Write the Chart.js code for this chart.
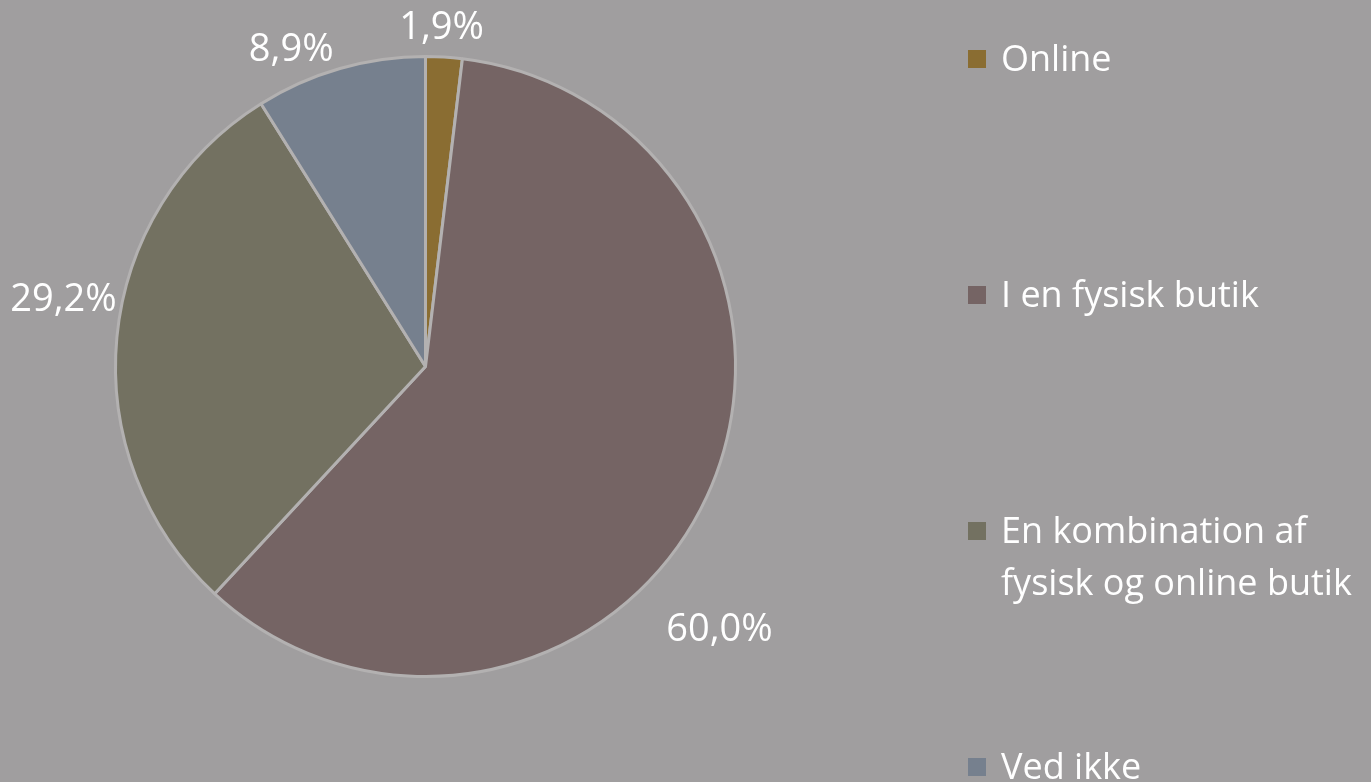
<!DOCTYPE html>
<html>
<head>
<meta charset="utf-8">
<script src="https://cdn.jsdelivr.net/npm/chart.js@4.4.0/dist/chart.umd.min.js"></script>
<style>
  html, body { margin: 0; padding: 0; background: #a09e9f; overflow: hidden; }
  #wrap { position: relative; width: 1371px; height: 782px; }
  #chart { position: absolute; left: 0; top: 0; }
  #legend { position: absolute; left: 968px; top: 0; font-family: 'Open Sans', sans-serif; font-size: 36px; color: #ffffff; }
  .item { position: absolute; left: 0; width: 420px; display: flex; align-items: flex-start; line-height: 52px; }
  .box { width: 18px; height: 18px; margin-top: 18px; margin-right: 15px; flex: none; }
</style>
</head>
<body>
<div id="wrap">
  <canvas id="chart" width="1371" height="782"></canvas>
  <div id="legend"></div>
</div>
<script>
// Data
const categories = ['Online', 'I en fysisk butik', 'En kombination af fysisk og online butik', 'Ved ikke'];
const legendLines = [['Online'], ['I en fysisk butik'], ['En kombination af', 'fysisk og online butik'], ['Ved ikke']];
const shares = [1.9, 60.0, 29.2, 8.9];
const colors = ['#8a6d32', '#756464', '#737161', '#76808e'];

// ajustes de posición de etiquetas (grados / px), como en el original
const labelShift = [-0.7, 17, 5, -7];
const labelPush = [2, 25, -7, -7];

// --- Etiquetas de porcentaje fuera del pastel ---
const outsideLabels = {
  id: 'outsideLabels',
  afterDatasetsDraw(chart) {
    const ctx = chart.ctx;
    const meta = chart.getDatasetMeta(0);
    ctx.save();
    ctx.font = "38px 'Open Sans', sans-serif";
    ctx.fillStyle = '#ffffff';
    ctx.textAlign = 'center';
    ctx.textBaseline = 'middle';
    meta.data.forEach((arc, i) => {
      const txt = shares[i].toFixed(1).replace('.', ',') + '%';
      const a = (arc.startAngle + arc.endAngle) / 2 + labelShift[i] * Math.PI / 180;
      const w = ctx.measureText(txt).width;
      const h = 30;
      const ext = Math.abs(Math.cos(a)) * w / 2 + Math.abs(Math.sin(a)) * h / 2;
      const r = arc.outerRadius + 10 + ext + labelPush[i];
      ctx.fillText(txt, arc.x + Math.cos(a) * r, arc.y + Math.sin(a) * r);
    });
    ctx.restore();
  }
};

new Chart(document.getElementById('chart'), {
  type: 'pie',
  data: {
    labels: categories,
    datasets: [{
      data: shares,
      backgroundColor: colors,
      borderColor: '#b3b1b1',
      borderWidth: 3
    }]
  },
  options: {
    responsive: false,
    animation: false,
    layout: { padding: { left: 114, right: 634, top: 55, bottom: 104 } },
    plugins: {
      legend: { display: false },
      tooltip: { enabled: false }
    }
  },
  plugins: [outsideLabels]
});

// Leyenda en HTML, repartida como en el original
const legend = document.getElementById('legend');
legendLines.forEach((lines, i) => {
  const item = document.createElement('div');
  item.className = 'item';
  item.style.top = (32 + i * 236) + 'px';
  const box = document.createElement('span');
  box.className = 'box';
  box.style.background = colors[i];
  const text = document.createElement('span');
  text.innerHTML = lines.join('<br>');
  item.appendChild(box);
  item.appendChild(text);
  legend.appendChild(item);
});
</script>
</body>
</html>
